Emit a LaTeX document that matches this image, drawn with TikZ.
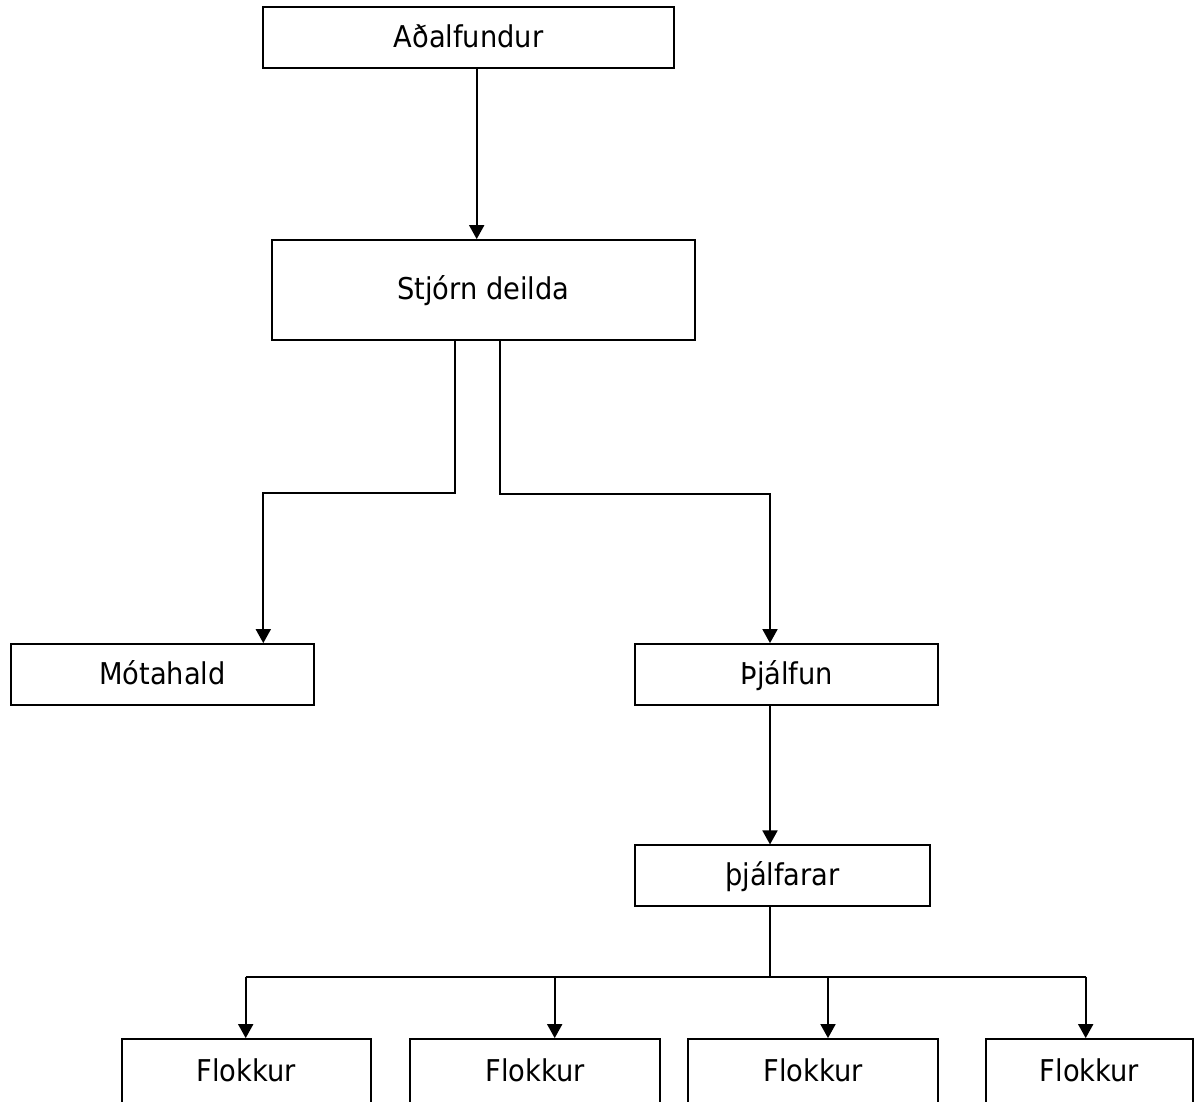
\documentclass[tikz,border=0pt]{standalone}
\usepackage{fontspec}
\setmainfont{DejaVu Sans}[FakeStretch=0.91]
\usepackage{tikz}
\usetikzlibrary{arrows.meta,positioning}

\begin{document}
\begin{tikzpicture}[
    x=1pt, y=-1pt,
    box/.style={rectangle, draw=black, line width=1.8pt, inner sep=0pt, align=center, text height=22.5pt, text depth=3pt, font=\fontsize{30}{36}\selectfont},
    arr/.style={-{Triangle[length=14pt, width=15pt]}, line width=1.8pt, draw=black},
    bus/.style={line width=1.8pt, draw=black}
]
    \useasboundingbox (0,0) rectangle (1197,1101);
    \clip (0,0) rectangle (1197,1101);

    \node [box, minimum width=411.6pt, minimum height=61pt] (adal) at (468.5,37.8) {Aðalfundur};
    \node [box, minimum width=423.3pt, minimum height=100pt] (stjorn) at (483.3,290) {Stjórn deilda};
    \node [box, minimum width=303pt, minimum height=61pt] (mota) at (162.5,674.5) {Mótahald};
    \node [box, minimum width=303pt, minimum height=61pt] (thjalfun) at (786.8,674.5) {Þjálfun};
    \node [box, minimum width=295pt, minimum height=60.7pt] (thjalfarar) at (782.5,875.7) {þjálfarar};
    \node [box, minimum width=249.3pt, minimum height=66pt] (flk1) at (246.3,1072) {Flokkur};
    \node [box, minimum width=250pt, minimum height=66pt] (flk2) at (535,1072) {Flokkur};
    \node [box, minimum width=249.7pt, minimum height=66pt] (flk3) at (813.2,1072) {Flokkur};
    \node [box, minimum width=207pt, minimum height=66pt] (flk4) at (1089.5,1072) {Flokkur};

    \draw [arr] ([xshift=8.2pt]adal.south) -- ([xshift=8.2pt]adal.south |- stjorn.north);
    \draw [arr] ([xshift=-28pt]stjorn.south) -- ++(0,152.3) -| ([xshift=100.8pt]mota.north);
    \draw [arr] ([xshift=16.4pt]stjorn.south) -- ++(0,153.3) -| ([xshift=-16.8pt]thjalfun.north);
    \draw [arr] ([xshift=-16.8pt]thjalfun.south) -- ([xshift=-16.8pt]thjalfun.south |- thjalfarar.north);

    \draw [bus] ([xshift=-12.5pt]thjalfarar.south) -- ++(0,71.5);
    \draw [bus] ([xshift=-0.6pt, yshift=61.5pt]flk1.north) -- ([xshift=-3.8pt, yshift=61.5pt]flk4.north);
    \foreach \n/\dx in {1/-0.6, 2/19.7, 3/14.8, 4/-3.8}
        \draw [arr] ([xshift=\dx pt, yshift=61.5pt]flk\n.north) -- ([xshift=\dx pt]flk\n.north);
\end{tikzpicture}
\end{document}
